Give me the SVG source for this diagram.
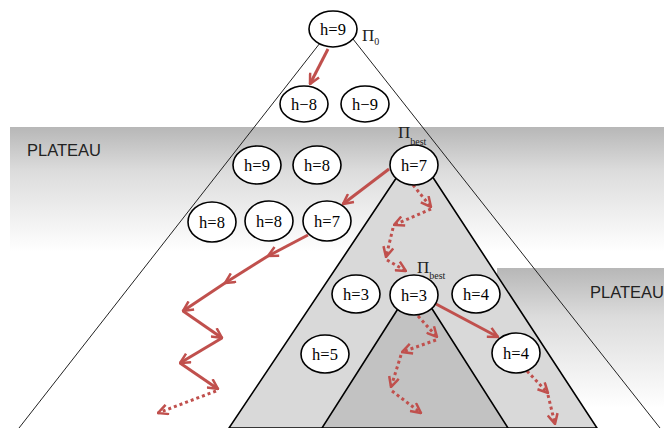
<svg xmlns="http://www.w3.org/2000/svg" width="664" height="428" viewBox="0 0 664 428">
<style>
.node ellipse{fill:#fff;stroke:#000;stroke-width:1.6}
.t{font-family:"Liberation Serif","Times New Roman",serif;font-size:16.5px;text-anchor:middle;fill:#000}
.sol{stroke:#c0504d;stroke-width:3;fill:none;marker-end:url(#ah)}
.dot{stroke:#c0504d;stroke-width:3;fill:none;stroke-dasharray:3 3;marker-end:url(#ah)}
.plat{font-family:"Liberation Sans",Arial,sans-serif;font-size:16.5px;fill:#222}
.pi{font-family:"Liberation Serif","Times New Roman",serif;font-size:17px;fill:#222}
</style>
<defs>
<linearGradient id="band" x1="0" y1="0" x2="0" y2="1">
<stop offset="0" stop-color="#b7b7b7"/>
<stop offset="0.35" stop-color="#dcdcdc"/>
<stop offset="1" stop-color="#ffffff"/>
</linearGradient>
<marker id="ah" viewBox="0 0 12 12" refX="11" refY="6" markerWidth="12" markerHeight="12" orient="auto" markerUnits="userSpaceOnUse">
<path d="M1,1 L11,6 L1,11" fill="none" stroke="#c0504d" stroke-width="2.5"/>
</marker>
</defs>
<g id="background">
<rect x="10" y="127" width="654" height="125" fill="url(#band)"/>
<rect x="497" y="268" width="167" height="140" fill="url(#band)"/>
<text class="plat" x="27" y="156">PLATEAU</text>
<text class="plat" x="590" y="298">PLATEAU</text>
<path d="M338,20 L19,428 M338,20 L660,428" stroke="#222" stroke-width="1" fill="none"/>
<polygon points="415,150 229,428 597,428" fill="#d9d9d9" stroke="#000" stroke-width="1.6"/>
<polygon points="415,282 322,428 508,428" fill="#c2c2c2" stroke="#000" stroke-width="1.6"/>
</g>
<g id="connectors">
<line class="sol" x1="328" y1="49" x2="310" y2="84"/>
<line class="sol" x1="389" y1="169" x2="343" y2="204"/>
<line class="sol" x1="308" y1="235" x2="268" y2="256"/>
<line class="sol" x1="268" y1="256" x2="225" y2="283"/>
<line class="sol" x1="225" y1="283" x2="183" y2="311"/>
<line class="sol" x1="183" y1="311" x2="222" y2="338"/>
<line class="sol" x1="222" y1="338" x2="180" y2="363"/>
<line class="sol" x1="180" y1="363" x2="218" y2="389"/>
<line class="dot" x1="216" y1="391" x2="158" y2="413"/>
<line class="dot" x1="413" y1="185" x2="431" y2="207"/>
<line class="dot" x1="431" y1="209" x2="394" y2="225"/>
<line class="dot" x1="393" y1="228" x2="386" y2="257"/>
<line class="dot" x1="387" y1="260" x2="406" y2="271"/>
<line class="sol" x1="436" y1="304" x2="498" y2="337"/>
<line class="dot" x1="418" y1="316" x2="437" y2="337"/>
<line class="dot" x1="436" y1="340" x2="402" y2="352"/>
<line class="dot" x1="401" y1="355" x2="391" y2="387"/>
<line class="dot" x1="392" y1="391" x2="421" y2="413"/>
<line class="dot" x1="527" y1="371" x2="548" y2="393"/>
<line class="dot" x1="548" y1="395" x2="555" y2="424"/>
</g>
<g id="n_top" class="node"><ellipse cx="333" cy="29" rx="24" ry="18"/><text class="t" x="333" y="35">h=9</text></g>
<g id="n_r1a" class="node"><ellipse cx="304" cy="104" rx="24" ry="18"/><text class="t" x="304" y="110">h−8</text></g>
<g id="n_r1b" class="node"><ellipse cx="365" cy="104" rx="24" ry="18"/><text class="t" x="365" y="110">h−9</text></g>
<g id="n_r2a" class="node"><ellipse cx="257" cy="165" rx="24" ry="19"/><text class="t" x="257" y="171">h=9</text></g>
<g id="n_r2b" class="node"><ellipse cx="317" cy="165" rx="24" ry="19"/><text class="t" x="317" y="171">h=8</text></g>
<g id="n_best1" class="node"><ellipse cx="414" cy="165" rx="24" ry="20"/><text class="t" x="414" y="171">h=7</text></g>
<g id="n_r3a" class="node"><ellipse cx="212" cy="222" rx="24" ry="20"/><text class="t" x="212" y="228">h=8</text></g>
<g id="n_r3b" class="node"><ellipse cx="269" cy="221" rx="24" ry="20"/><text class="t" x="269" y="227">h=8</text></g>
<g id="n_r3c" class="node"><ellipse cx="327" cy="221" rx="24" ry="20"/><text class="t" x="327" y="227">h=7</text></g>
<g id="n_r4a" class="node"><ellipse cx="356" cy="294" rx="24" ry="19"/><text class="t" x="356" y="300">h=3</text></g>
<g id="n_best2" class="node"><ellipse cx="414" cy="295" rx="24" ry="20"/><text class="t" x="414" y="301">h=3</text></g>
<g id="n_r4c" class="node"><ellipse cx="476" cy="294" rx="24" ry="19"/><text class="t" x="476" y="300">h=4</text></g>
<g id="n_r5a" class="node"><ellipse cx="325" cy="354" rx="24" ry="19"/><text class="t" x="325" y="360">h=5</text></g>
<g id="n_r5b" class="node"><ellipse cx="516" cy="353" rx="24" ry="20"/><text class="t" x="516" y="359">h=4</text></g>
<g id="labels">
<text class="pi" x="362" y="41">Π<tspan font-size="10" dy="4">0</tspan></text>
<text class="pi" x="398" y="138">Π<tspan font-size="10" dy="7">best</tspan></text>
<text class="pi" x="417" y="273">Π<tspan font-size="10" dy="6">best</tspan></text>
</g>
</svg>
